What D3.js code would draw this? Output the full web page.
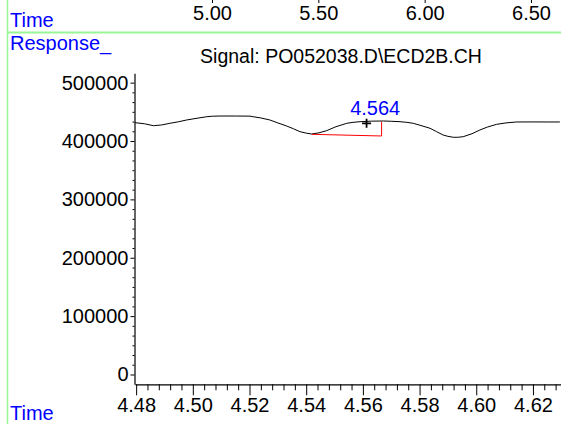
<!DOCTYPE html>
<html><head><meta charset="utf-8">
<script src="https://cdn.jsdelivr.net/npm/d3@7"></script>
<style>
html,body{margin:0;padding:0;background:#fff;}
svg{display:block;font-family:Arial,"Liberation Sans",sans-serif;}
</style></head>
<body><svg id="c" width="561" height="424"></svg>
<script>
// ---- data ----
const times = [4.4796,4.4830,4.4861,4.4890,4.4919,4.4950,4.4978,4.5015,4.5049,4.5070,4.5096,4.5150,4.5202,4.5213,4.5240,4.5272,4.5300,4.5331,4.5355,4.5378,4.5400,4.5419,4.5445,4.5472,4.5505,4.5543,4.5565,4.5590,4.5630,4.5672,4.5700,4.5731,4.5755,4.5778,4.5805,4.5837,4.5860,4.5883,4.5900,4.5919,4.5935,4.5954,4.5985,4.6013,4.6040,4.6072,4.6105,4.6142,4.6200,4.6250,4.6295];
const responses = [431400,429500,426200,427500,430300,433000,436000,439000,441600,442500,442800,442800,442600,441600,439500,436000,431000,425700,421000,416000,413500,412000,414000,417700,424500,430300,432000,433100,434000,434300,433800,433100,432000,430300,426500,421800,416000,410300,408000,406400,406400,407400,412500,418900,424000,428600,431000,432600,432700,432600,432600];
const xTicks = [4.48,4.50,4.52,4.54,4.56,4.58,4.60,4.62];
const yTicks = [0,100000,200000,300000,400000,500000];
const overviewTicks = [5.00,5.50,6.00,6.50];
const peakLabel = "4.564";
const peakTime = 4.564;
const peakMarker = [4.5613, 430300];
const baselineStart = [4.5419, 411500];
const baselineEnd = [4.5666, 408600];
const baselineTop = 433100;
const title = "Signal: PO052038.D\\ECD2B.CH";

// ---- layout ----
const svg = d3.select("#c");
const FS = 20;
const x = d3.scaleLinear().domain([4.4796, 4.6299]).range([135, 561]);
const y = d3.scaleLinear().domain([-16800, 516000]).range([384.3, 73.3]);
const xTop = d3.scaleLinear().domain([4.638, 6.641]).range([135, 561]);
const green = "#98f598";

// green frame lines
svg.append("line").attr("x1",7.5).attr("x2",7.5).attr("y1",0).attr("y2",424).attr("stroke",green).attr("stroke-width",1.5);
svg.append("line").attr("x1",7).attr("x2",561).attr("y1",32.5).attr("y2",32.5).attr("stroke",green).attr("stroke-width",2);

// blue labels
svg.append("text").attr("x",10).attr("y",26.5).attr("fill","#0000ff").attr("font-size",FS).text("Time");
svg.append("text").attr("x",10).attr("y",49.5).attr("fill","#0000ff").attr("font-size",FS).text("Response_");
svg.append("text").attr("x",10).attr("y",420).attr("fill","#0000ff").attr("font-size",FS).text("Time");

// title
svg.append("text").attr("x",341).attr("y",63).attr("text-anchor","middle").attr("font-size",FS-0.5).attr("fill","#000").text(title);

// top overview axis
const gTop = svg.append("g").attr("transform","translate(0,0)")
  .call(d3.axisBottom(xTop).tickValues(overviewTicks).tickSize(3).tickFormat(d3.format(".2f")));
gTop.select(".domain").remove();
gTop.selectAll("line").attr("stroke","#000");
gTop.selectAll("text").attr("y",20).attr("dy",0).attr("font-size",FS).attr("fill","#000").attr("font-family",null);

// y axis minor
const yMinor = d3.range(0, 6*5+1).map(i => i*100000/6).filter(v => !yTicks.includes(Math.round(v)));
const gYm = svg.append("g").attr("transform","translate(134.5,0)")
  .call(d3.axisLeft(y).tickValues(yMinor).tickSize(2).tickFormat(""));
gYm.select(".domain").remove();
const gY = svg.append("g").attr("transform","translate(134.5,0)")
  .call(d3.axisLeft(y).tickValues(yTicks).tickSize(4).tickPadding(2).tickSizeOuter(0).tickFormat(d3.format("d")));
gY.selectAll("text").attr("font-size",FS).attr("fill","#000").attr("font-family",null);

// x axis minor
const xMinor = d3.range(0, 8*5).map(i => 4.48 + i*0.004).filter((v,i) => i % 5 !== 0);
const gXm = svg.append("g").attr("transform","translate(0,384.3)")
  .call(d3.axisBottom(x).tickValues(xMinor).tickSize(6).tickFormat(""));
gXm.select(".domain").remove();
const gX = svg.append("g").attr("transform","translate(0,384.3)")
  .call(d3.axisBottom(x).tickValues(xTicks).tickSize(11).tickPadding(3).tickSizeOuter(0).tickFormat(d3.format(".2f")));
gX.selectAll("text").attr("font-size",FS).attr("fill","#000").attr("font-family",null);
svg.selectAll(".domain").attr("stroke","#000").attr("stroke-width",1.2);

// signal
const pts = times.map((t,i)=>[t,responses[i]]);
svg.append("path").datum(pts)
  .attr("d", d3.line().x(d=>x(d[0])).y(d=>y(d[1])))
  .attr("fill","none").attr("stroke","#000").attr("stroke-width",1);

// integration baseline
svg.append("path")
  .attr("d", d3.line()([[x(baselineStart[0]),y(baselineStart[1])],[x(baselineEnd[0]),y(baselineEnd[1])],[x(baselineEnd[0]),y(baselineTop)]]))
  .attr("fill","none").attr("stroke","#ff0000").attr("stroke-width",1);

// peak marker
const px = x(peakMarker[0]), py = y(peakMarker[1]);
svg.append("path").attr("d",`M${px-4.5},${py}H${px+4.5}M${px},${py-4.5}V${py+4.5}`).attr("stroke","#000").attr("stroke-width",1.8);
svg.append("text").attr("x",x(peakTime)+1).attr("y",115).attr("text-anchor","middle").attr("font-size",FS).attr("fill","#0000ff").text(peakLabel);
</script></body></html>
